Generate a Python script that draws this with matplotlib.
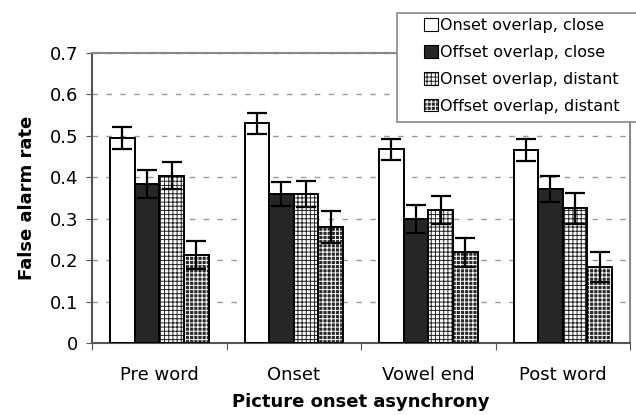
import matplotlib
matplotlib.use('Agg')
import matplotlib.pyplot as plt
from matplotlib.patches import Patch, Rectangle
import numpy as np

# data
groups = ['Pre word', 'Onset', 'Vowel end', 'Post word']
series = ['Onset overlap, close', 'Offset overlap, close',
          'Onset overlap, distant', 'Offset overlap, distant']
onset_close = [0.494, 0.530, 0.467, 0.466]
offset_close = [0.383, 0.360, 0.299, 0.372]
onset_distant = [0.404, 0.360, 0.321, 0.325]
offset_distant = [0.213, 0.280, 0.219, 0.184]
err_onset_close = [0.027, 0.025, 0.026, 0.026]
err_offset_close = [0.034, 0.028, 0.034, 0.031]
err_onset_distant = [0.033, 0.032, 0.034, 0.037]
err_offset_distant = [0.034, 0.038, 0.035, 0.037]

values = [onset_close, offset_close, onset_distant, offset_distant]
errors = [err_onset_close, err_offset_close, err_onset_distant, err_offset_distant]

plt.rcParams['font.family'] = 'DejaVu Sans'
plt.rcParams['hatch.linewidth'] = 0.7

fig = plt.figure(figsize=(6.36, 4.15), dpi=100)
ax = fig.add_axes([0.1447, 0.1728, 0.8459, 0.7])
ax.set_zorder(0)

x = np.arange(len(groups))
w = 0.183
# face, hatch colour, hatch
styles = [('white', 'black', None),
          ('#262626', '#262626', None),
          ('white', '#222222', '++++'),
          ('#2a2a2a', 'white', '++++')]

handles = []
for i, (vals, errs) in enumerate(zip(values, errors)):
    pos = x + (i - 1.5) * w
    face, hcol, hatch = styles[i]
    ax.bar(pos, vals, w, color=face, edgecolor=hcol, hatch=hatch, linewidth=0, zorder=2)
    ax.bar(pos, vals, w, fill=False, edgecolor='black', linewidth=1.4, zorder=3)
    ax.errorbar(pos, vals, yerr=errs, fmt='none', ecolor='black', elinewidth=1.6,
                capsize=7.5, capthick=1.6, zorder=4)
    h1 = Patch(facecolor=face, edgecolor=hcol, hatch=hatch, linewidth=0)
    h2 = Patch(fill=False, edgecolor='black', linewidth=0.8)
    handles.append((h1, h2))

ax.set_xlim(-0.5, len(groups) - 0.5)
ax.set_ylim(0, 0.7)
ax.set_yticks(np.arange(0, 0.71, 0.1))
ax.set_yticklabels(['0', '0.1', '0.2', '0.3', '0.4', '0.5', '0.6', '0.7'])
ax.yaxis.grid(True, linestyle=(0, (4, 6)), color='#999999', linewidth=1, zorder=0)
ax.set_axisbelow(True)

ax.set_xticks(np.arange(-0.5, len(groups), 1.0))
ax.set_xticklabels([])
ax.set_xticks(x, minor=True)
ax.set_xticklabels(groups, minor=True)
ax.tick_params(axis='x', which='major', length=5, color='#555555', direction='out')
ax.tick_params(axis='x', which='minor', length=0, pad=16, labelsize=13)
ax.tick_params(axis='y', length=4, color='#555555', labelsize=13, pad=6)

for s in ['top', 'right']:
    ax.spines[s].set_color('#888888')
    ax.spines[s].set_linewidth(1.5)
for s in ['left', 'bottom']:
    ax.spines[s].set_color('#555555')
    ax.spines[s].set_linewidth(1.5)

ax.set_xlabel('Picture onset asynchrony', fontsize=13, fontweight='bold', labelpad=7)
ax.set_ylabel('False alarm rate', fontsize=13, fontweight='bold', labelpad=10)

# legend box sits over the top right of the plot and runs off the figure edge
box = Rectangle((397 / 636, 1 - 122 / 415), 0.4, 109 / 415, transform=fig.transFigure,
                facecolor='white', edgecolor='#888888', linewidth=1.2, zorder=5)
fig.patches.append(box)

leg = fig.legend(handles, series, loc='upper left', bbox_to_anchor=(421 / 636, 1 - 15 / 415),
                 fontsize=11.5, frameon=False, handlelength=0.85, handleheight=0.85,
                 handletextpad=0.15, borderpad=0.2, labelspacing=0.74, borderaxespad=0)
leg.set_zorder(10)

fig.savefig('out.png', dpi=100)
